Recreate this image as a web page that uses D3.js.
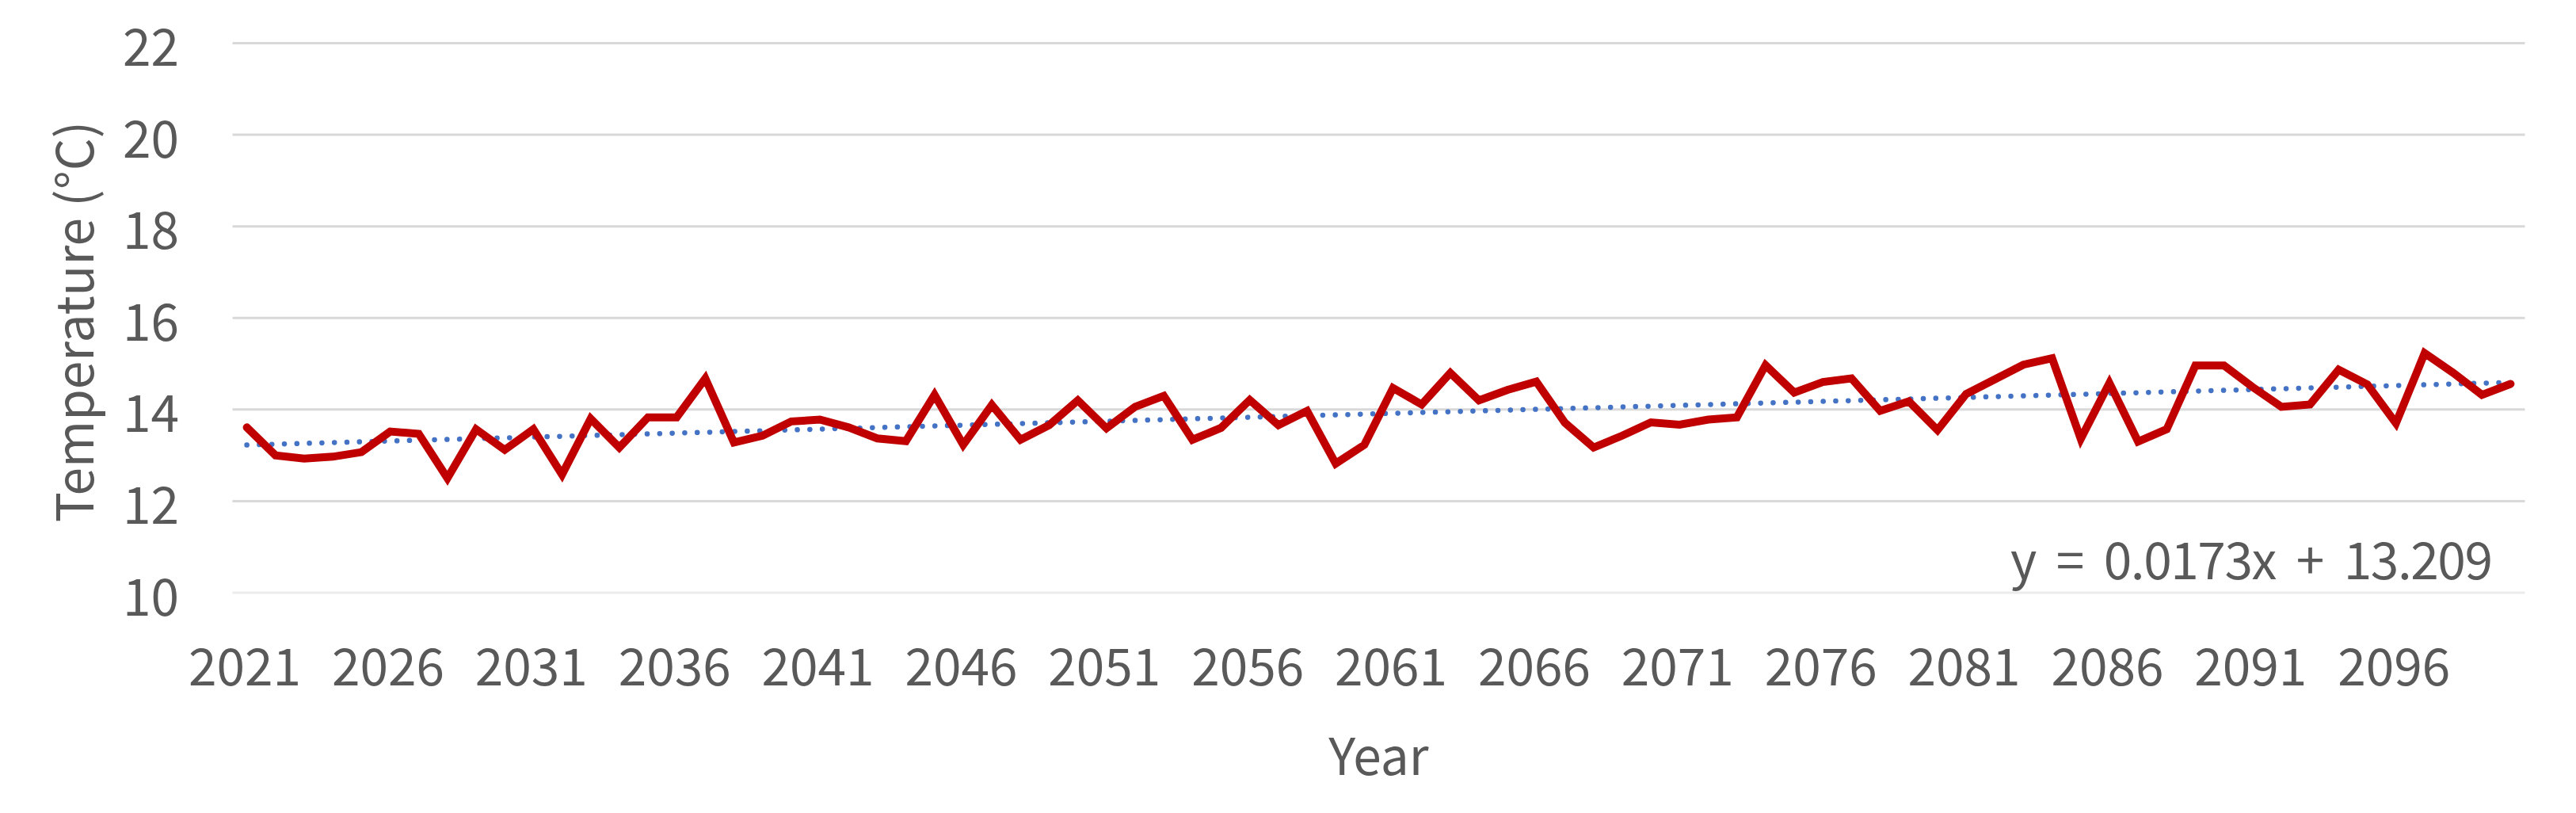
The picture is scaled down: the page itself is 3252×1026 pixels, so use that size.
<!DOCTYPE html>
<html>
<head>
<meta charset="utf-8">
<script src="https://cdn.jsdelivr.net/npm/d3@7"></script>
<style>
  html, body { margin: 0; padding: 0; background: #fff; }
  svg { display: block; }
  text { font-family: "Noto Sans CJK KR", "Open Sans", sans-serif; fill: #595959; }
</style>
</head>
<body>
<svg id="chart" width="3252" height="1026"></svg>
<script>
const years = [2021,2022,2023,2024,2025,2026,2027,2028,2029,2030,
  2031,2032,2033,2034,2035,2036,2037,2038,2039,2040,
  2041,2042,2043,2044,2045,2046,2047,2048,2049,2050,
  2051,2052,2053,2054,2055,2056,2057,2058,2059,2060,
  2061,2062,2063,2064,2065,2066,2067,2068,2069,2070,
  2071,2072,2073,2074,2075,2076,2077,2078,2079,2080,
  2081,2082,2083,2084,2085,2086,2087,2088,2089,2090,
  2091,2092,2093,2094,2095,2096,2097,2098,2099,2100];

const temperature = [13.61,13.00,12.93,12.97,13.07,13.52,13.47,12.50,13.57,13.12,
  13.57,12.58,13.80,13.17,13.83,13.83,14.68,13.28,13.43,13.74,
  13.78,13.61,13.37,13.31,14.32,13.23,14.10,13.34,13.66,14.20,
  13.59,14.06,14.30,13.34,13.60,14.21,13.66,13.97,12.82,13.23,
  14.47,14.11,14.80,14.20,14.43,14.61,13.71,13.17,13.43,13.72,
  13.67,13.78,13.83,14.97,14.37,14.60,14.68,13.97,14.18,13.55,
  14.34,14.66,14.98,15.12,13.36,14.58,13.30,13.57,14.96,14.96,
  14.49,14.06,14.11,14.87,14.55,13.70,15.23,14.80,14.32,14.56];

const xTickLabels = ["2021","2026","2031","2036","2041","2046","2051","2056","2061","2066","2071","2076","2081","2086","2091","2096"];
const yTicks = [10,12,14,16,18,20,22];

// trendline coefficients as printed on the chart (x = 1..80)
const trendSlope = 0.0173;
const trendIntercept = 13.209;
const trendLabel = "y = 0.0173x + 13.209";

const xTitle = "Year";
const yTitle = "Temperature (°C)";

const svg = d3.select("#chart");
const W = 3252, H = 1026;
const pL = 293.5, pR = 3187.5, pT = 54.5, pB = 748;
const FONT = '"Noto Sans CJK KR", "Open Sans", sans-serif';

svg.append("rect").attr("width", W).attr("height", H).attr("fill", "#fff");

const x = d3.scalePoint().domain(years).range([pL, pR]).padding(0.5);
const y = d3.scaleLinear().domain([10, 22]).range([pB, pT]);

// gridlines
svg.append("g").selectAll("line").data(yTicks).join("line")
  .attr("x1", pL).attr("x2", pR)
  .attr("y1", d => y(d)).attr("y2", d => y(d))
  .attr("stroke", d => d === 10 ? "#ececec" : "#d9d9d9")
  .attr("stroke-width", 3);

// y axis labels
const yAxis = d3.axisLeft(y).tickValues(yTicks).tickSize(0).tickPadding(0);
const gy = svg.append("g").attr("transform", `translate(226,0)`).call(yAxis);
gy.select(".domain").remove();
gy.selectAll("text")
  .attr("font-size", 64).attr("fill", "#595959")
  .attr("font-family", FONT)
  .attr("dy", null).attr("y", 0)
  .attr("dominant-baseline", "central");

// x axis labels
const xAxis = d3.axisBottom(x).tickValues(xTickLabels.map(Number)).tickSize(0).tickPadding(0).tickFormat(d3.format("d"));
const gx = svg.append("g").attr("transform", `translate(-3,0)`).call(xAxis);
gx.select(".domain").remove();
gx.selectAll("text")
  .attr("font-size", 64).attr("fill", "#595959")
  .attr("font-family", FONT)
  .attr("dy", null).attr("y", 865);

// trendline
const trendData = [years[0], years[years.length - 1]].map(yr => {
  const idx = years.indexOf(yr) + 1;
  return { year: yr, v: trendSlope * idx + trendIntercept };
});
svg.append("path")
  .datum(trendData)
  .attr("d", d3.line().x(d => x(d.year)).y(d => y(d.v)))
  .attr("fill", "none")
  .attr("stroke", "#4472c4")
  .attr("stroke-width", 6.5)
  .attr("stroke-linecap", "round")
  .attr("stroke-dasharray", "0.1 15.7");

// temperature line
svg.append("path")
  .datum(years.map((yr, i) => ({ year: yr, v: temperature[i] })))
  .attr("d", d3.line().x(d => x(d.year)).y(d => y(d.v)))
  .attr("fill", "none")
  .attr("stroke", "#c00000")
  .attr("stroke-width", 10)
  .attr("stroke-linejoin", "miter")
  .attr("stroke-miterlimit", 10)
  .attr("stroke-linecap", "round");

// trend equation
svg.append("text")
  .attr("x", 2538).attr("y", 731)
  .attr("text-anchor", "start")
  .attr("font-size", 64)
  .attr("font-family", FONT)
  .attr("textLength", 609)
  .attr("lengthAdjust", "spacing")
  .style("white-space", "pre")
  .text(trendLabel.replace(/ /g, "  "));

// axis titles
svg.append("text")
  .attr("x", (pL + pR) / 2).attr("y", 978)
  .attr("text-anchor", "middle")
  .attr("font-size", 64)
  .attr("font-family", FONT)
  .text(xTitle);

svg.append("text")
  .attr("transform", `translate(118,406) rotate(-90)`)
  .attr("text-anchor", "middle")
  .attr("font-size", 64)
  .attr("font-family", FONT)
  .text(yTitle);
</script>
</body>
</html>
